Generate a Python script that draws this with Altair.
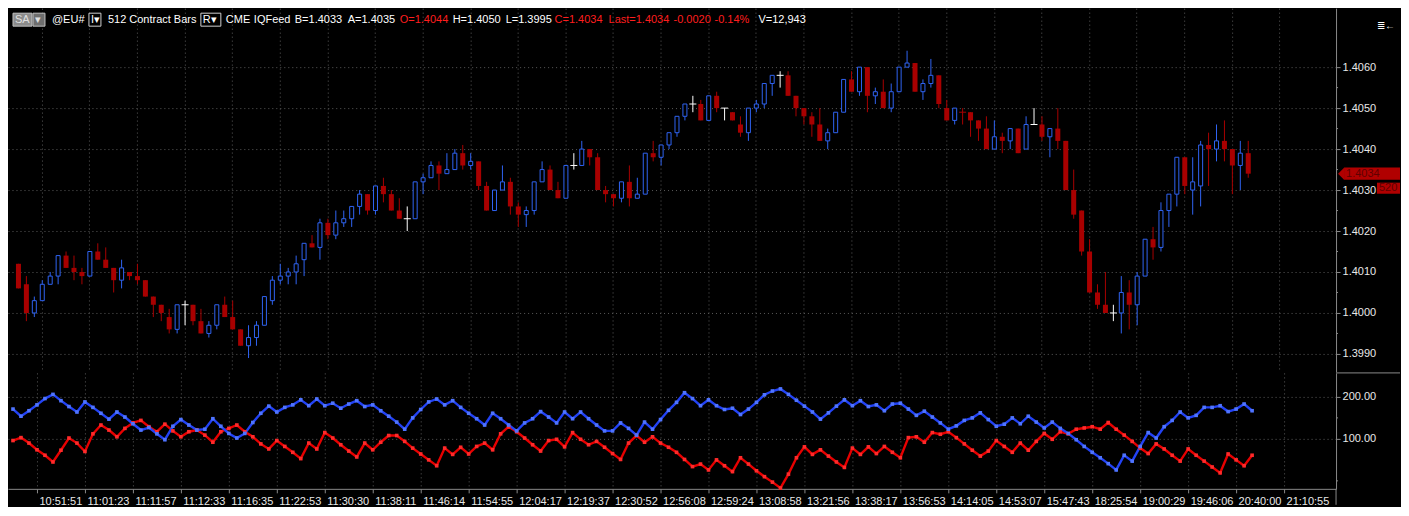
import altair as alt
import pandas as pd

FONT = "Liberation Sans"

# ---------------- price bars (512 contract bars) ----------------
OPEN = [
    1.4012, 1.4007, 1.4000, 1.4003, 1.4007, 1.4009, 1.4014, 1.4011, 1.4010, 1.4009,
    1.4015, 1.4013, 1.4011, 1.4008, 1.4010, 1.4009, 1.4008, 1.4004, 1.4002, 1.3999,
    1.3996, 1.4002, 1.4002, 1.3998, 1.3995, 1.3997, 1.4002, 1.3999, 1.3996, 1.3992,
    1.3994, 1.3997, 1.4003, 1.4008, 1.4009, 1.4010, 1.4013, 1.4017, 1.4016, 1.4022,
    1.4019, 1.4022, 1.4023, 1.4026, 1.4029, 1.4025, 1.4031, 1.4029, 1.4025, 1.4023,
    1.4023, 1.4032, 1.4033, 1.4036, 1.4034, 1.4035, 1.4039, 1.4036, 1.4037, 1.4031,
    1.4025, 1.4030, 1.4032, 1.4026, 1.4024, 1.4025, 1.4032, 1.4035, 1.4030, 1.4028,
    1.4036, 1.4036, 1.4040, 1.4038, 1.4030, 1.4029, 1.4028, 1.4032, 1.4028, 1.4029,
    1.4039, 1.4038, 1.4041, 1.4044, 1.4048, 1.4051, 1.4051, 1.4047, 1.4053, 1.4050,
    1.4049, 1.4046, 1.4044, 1.4050, 1.4051, 1.4056, 1.4058, 1.4058, 1.4053, 1.4050,
    1.4048, 1.4046, 1.4042, 1.4044, 1.4049, 1.4057, 1.4054, 1.4060, 1.4053, 1.4054,
    1.4050, 1.4054, 1.4060, 1.4061, 1.4054, 1.4056, 1.4058, 1.4050, 1.4047, 1.4049,
    1.4049, 1.4047, 1.4045, 1.4040, 1.4043, 1.4042, 1.4045, 1.4040, 1.4046, 1.4046,
    1.4043, 1.4045, 1.4042, 1.4030, 1.4025, 1.4015, 1.4005, 1.4002, 1.4000, 1.4000,
    1.4005, 1.4002, 1.4009, 1.4018, 1.4016, 1.4025, 1.4029, 1.4038, 1.4030, 1.4031,
    1.4041, 1.4040, 1.4042, 1.4040, 1.4036, 1.4039,
]
HIGH = [
    1.4012, 1.4009, 1.4004, 1.4008, 1.4010, 1.4014, 1.4015, 1.4014, 1.4011, 1.4015,
    1.4017, 1.4016, 1.4011, 1.4013, 1.4010, 1.4012, 1.4008, 1.4004, 1.4002, 1.4001,
    1.4002, 1.4003, 1.4002, 1.4001, 1.3998, 1.4002, 1.4004, 1.4003, 1.3996, 1.3997,
    1.3998, 1.4004, 1.4009, 1.4012, 1.4011, 1.4014, 1.4017, 1.4019, 1.4023, 1.4023,
    1.4025, 1.4025, 1.4026, 1.4030, 1.4029, 1.4031, 1.4033, 1.4030, 1.4028, 1.4026,
    1.4032, 1.4034, 1.4037, 1.4037, 1.4039, 1.4040, 1.4041, 1.4039, 1.4037, 1.4032,
    1.4030, 1.4036, 1.4033, 1.4027, 1.4026, 1.4032, 1.4037, 1.4036, 1.4032, 1.4036,
    1.4039, 1.4042, 1.4040, 1.4039, 1.4031, 1.4029, 1.4032, 1.4036, 1.4033, 1.4039,
    1.4042, 1.4041, 1.4044, 1.4048, 1.4051, 1.4053, 1.4052, 1.4053, 1.4054, 1.4050,
    1.4049, 1.4048, 1.4050, 1.4052, 1.4056, 1.4058, 1.4059, 1.4059, 1.4053, 1.4050,
    1.4049, 1.4050, 1.4045, 1.4049, 1.4057, 1.4059, 1.4060, 1.4060, 1.4055, 1.4057,
    1.4056, 1.4060, 1.4064, 1.4061, 1.4057, 1.4062, 1.4058, 1.4052, 1.4050, 1.4050,
    1.4049, 1.4047, 1.4048, 1.4047, 1.4044, 1.4045, 1.4045, 1.4048, 1.4050, 1.4048,
    1.4045, 1.4050, 1.4042, 1.4035, 1.4025, 1.4018, 1.4007, 1.4010, 1.4002, 1.4009,
    1.4008, 1.4010, 1.4018, 1.4021, 1.4027, 1.4029, 1.4038, 1.4038, 1.4038, 1.4042,
    1.4044, 1.4046, 1.4047, 1.4040, 1.4042, 1.4042,
]
LOW = [
    1.4006, 1.3998, 1.3999, 1.4003, 1.4007, 1.4007, 1.4011, 1.4008, 1.4007, 1.4009,
    1.4013, 1.4011, 1.4005, 1.4006, 1.4008, 1.4007, 1.4004, 1.3999, 1.3998, 1.3995,
    1.3995, 1.3997, 1.3997, 1.3995, 1.3994, 1.3996, 1.3999, 1.3996, 1.3992, 1.3989,
    1.3992, 1.3997, 1.4002, 1.4007, 1.4007, 1.4007, 1.4009, 1.4016, 1.4013, 1.4018,
    1.4018, 1.4021, 1.4021, 1.4024, 1.4024, 1.4024, 1.4027, 1.4025, 1.4023, 1.4020,
    1.4023, 1.4029, 1.4033, 1.4030, 1.4034, 1.4035, 1.4035, 1.4035, 1.4030, 1.4025,
    1.4025, 1.4030, 1.4024, 1.4021, 1.4021, 1.4024, 1.4032, 1.4030, 1.4028, 1.4028,
    1.4035, 1.4036, 1.4036, 1.4030, 1.4027, 1.4026, 1.4027, 1.4026, 1.4028, 1.4029,
    1.4037, 1.4036, 1.4040, 1.4043, 1.4047, 1.4049, 1.4047, 1.4047, 1.4049, 1.4047,
    1.4047, 1.4043, 1.4042, 1.4049, 1.4050, 1.4053, 1.4055, 1.4053, 1.4048, 1.4046,
    1.4043, 1.4042, 1.4040, 1.4044, 1.4049, 1.4054, 1.4053, 1.4049, 1.4051, 1.4050,
    1.4049, 1.4054, 1.4060, 1.4054, 1.4052, 1.4055, 1.4050, 1.4047, 1.4046, 1.4046,
    1.4043, 1.4042, 1.4040, 1.4040, 1.4039, 1.4040, 1.4039, 1.4040, 1.4046, 1.4042,
    1.4038, 1.4040, 1.4030, 1.4023, 1.4014, 1.4005, 1.4001, 1.4000, 1.3998, 1.3995,
    1.3996, 1.3997, 1.4009, 1.4013, 1.4015, 1.4021, 1.4026, 1.4029, 1.4024, 1.4026,
    1.4031, 1.4037, 1.4037, 1.4029, 1.4030, 1.4033,
]
CLOSE = [
    1.4006, 1.4000, 1.4003, 1.4007, 1.4009, 1.4014, 1.4011, 1.4010, 1.4009, 1.4015,
    1.4013, 1.4011, 1.4008, 1.4011, 1.4009, 1.4008, 1.4004, 1.4002, 1.4000, 1.3996,
    1.4002, 1.4002, 1.3998, 1.3995, 1.3997, 1.4002, 1.3999, 1.3996, 1.3992, 1.3994,
    1.3997, 1.4004, 1.4008, 1.4009, 1.4010, 1.4012, 1.4017, 1.4016, 1.4022, 1.4019,
    1.4022, 1.4023, 1.4026, 1.4029, 1.4025, 1.4031, 1.4029, 1.4025, 1.4023, 1.4023,
    1.4032, 1.4033, 1.4036, 1.4034, 1.4035, 1.4039, 1.4036, 1.4037, 1.4031, 1.4025,
    1.4030, 1.4032, 1.4026, 1.4024, 1.4025, 1.4032, 1.4035, 1.4030, 1.4028, 1.4036,
    1.4036, 1.4040, 1.4038, 1.4030, 1.4029, 1.4028, 1.4032, 1.4028, 1.4029, 1.4039,
    1.4038, 1.4041, 1.4044, 1.4048, 1.4051, 1.4051, 1.4047, 1.4053, 1.4050, 1.4050,
    1.4047, 1.4044, 1.4050, 1.4051, 1.4056, 1.4058, 1.4058, 1.4053, 1.4050, 1.4048,
    1.4046, 1.4042, 1.4044, 1.4049, 1.4057, 1.4054, 1.4060, 1.4053, 1.4054, 1.4050,
    1.4054, 1.4060, 1.4061, 1.4054, 1.4056, 1.4058, 1.4051, 1.4047, 1.4050, 1.4049,
    1.4047, 1.4045, 1.4040, 1.4043, 1.4042, 1.4045, 1.4039, 1.4046, 1.4046, 1.4043,
    1.4045, 1.4042, 1.4030, 1.4024, 1.4015, 1.4005, 1.4002, 1.4000, 1.4000, 1.4005,
    1.4002, 1.4009, 1.4018, 1.4016, 1.4025, 1.4029, 1.4038, 1.4031, 1.4032, 1.4041,
    1.4040, 1.4042, 1.4040, 1.4036, 1.4039, 1.4034,
]

# ---------------- lower study (two lines) ----------------
BLUE_LINE = [
    171, 154, 167, 181, 196, 206, 191, 177, 164, 188,
    175, 161, 147, 164, 152, 136, 121, 127, 112, 98,
    130, 146, 133, 121, 123, 148, 130, 113, 102, 113,
    139, 161, 178, 164, 175, 181, 193, 179, 195, 179,
    185, 173, 183, 191, 177, 181, 167, 154, 140, 123,
    150, 170, 188, 195, 181, 191, 175, 161, 148, 133,
    161, 148, 133, 119, 138, 148, 165, 152, 138, 164,
    148, 164, 148, 133, 119, 119, 138, 125, 109, 140,
    123, 146, 168, 187, 210, 196, 179, 193, 179, 170,
    173, 158, 171, 187, 205, 214, 219, 206, 192, 178,
    164, 147, 162, 178, 193, 179, 191, 177, 181, 167,
    183, 185, 171, 156, 166, 152, 138, 123, 131, 144,
    150, 162, 146, 130, 135, 150, 136, 154, 140, 126,
    140, 125, 113, 98, 82, 68, 55, 41, 26, 61,
    47, 82, 115, 102, 129, 144, 164, 150, 156, 175,
    175, 179, 165, 171, 183, 167,
]
RED_LINE = [
    96, 103, 90, 74, 61, 45, 73, 102, 90, 70,
    112, 133, 121, 105, 125, 138, 144, 129, 117, 135,
    119, 105, 117, 121, 109, 92, 117, 125, 133, 117,
    105, 88, 76, 96, 82, 68, 53, 90, 76, 115,
    102, 86, 71, 57, 90, 74, 92, 108, 108, 94,
    78, 64, 50, 36, 78, 63, 80, 64, 82, 90,
    74, 112, 129, 117, 102, 86, 71, 96, 99, 81,
    115, 99, 86, 94, 80, 65, 51, 90, 108, 92,
    105, 90, 80, 68, 51, 34, 40, 26, 50, 36,
    22, 55, 40, 24, 10, -3, -17, 16, 55, 81,
    63, 74, 59, 45, 32, 78, 63, 81, 65, 82,
    68, 55, 103, 105, 92, 115, 111, 117, 103, 88,
    73, 59, 71, 96, 82, 68, 90, 73, 94, 113,
    99, 117, 112, 123, 126, 129, 123, 139, 123, 109,
    94, 78, 65, 88, 76, 61, 47, 76, 61, 47,
    33, 19, 64, 50, 36, 61,
]

# ---------------- axis labels ----------------
TICK_BARS = [3, 9, 15, 21, 27, 33, 39, 45, 51, 57, 63, 69, 75, 81, 87, 93, 99,
             105, 111, 117, 123, 129, 135, 141, 147, 153, 159]
TIME_LABELS = ["10:51:51", "11:01:23", "11:11:57", "11:12:33", "11:16:35", "11:22:53",
               "11:30:30", "11:38:11", "11:46:14", "11:54:55", "12:04:17", "12:19:37",
               "12:30:52", "12:56:08", "12:59:24", "13:08:58", "13:21:56", "13:38:17",
               "13:56:53", "14:14:05", "14:53:07", "15:47:43", "18:25:54", "19:00:29",
               "19:46:06", "20:40:00", "21:10:55"]
PRICE_TICKS = [1.3990, 1.4000, 1.4010, 1.4020, 1.4030, 1.4040, 1.4050, 1.4060]
PRICE_MINOR = [1.3995, 1.4005, 1.4015, 1.4025, 1.4035, 1.4045, 1.4055]
STUDY_TICKS = [100, 200]
STUDY_MINOR = [0, 150]

HEADER_TEXT = ["SA", "▾", "@EU#", "I▾", "512 Contract Bars", "R▾", "CME", "IQFeed",
               "B=1.4033", "A=1.4035", "O=1.4044", "H=1.4050", "L=1.3995", "C=1.4034",
               "Last=1.4034", "-0.0020", "-0.14%", "V=12,943"]
LAST_PRICE = 1.4034
LAST_LABEL = "1.4034"
COUNTDOWN = "520"

# ---------------- styles / layout ----------------
W, H_PRICE, H_STUDY = 1329, 364, 116
BLUE = "#2f63f2"
RED = "#a80000"
GRID = "#5a5a5a"
AXIS = "#8a8a8a"
TXT = "#e8e8e8"
HRED = "#ff1e1e"
HEADER_COLOR = ["#e0e0e0", "#e0e0e0", "#ffffff", "#ffffff", "#ffffff", "#ffffff", "#ffffff",
                "#ffffff", "#ffffff", "#ffffff", HRED, "#ffffff", "#ffffff", HRED, HRED,
                HRED, HRED, "#ffffff"]
HEADER_X = [7, 27, 44, 83, 100, 195, 218, 246, 287, 340, 392, 445, 498, 547, 601, 666, 707, 751]
BOX_X0 = [5, 25, 81, 193]
BOX_X1 = [24, 37, 93, 213]
BOX_FILL = ["#8c8c8c", "#6e6e6e", "#000000", "#000000"]
BOX_STROKE = ["#c0c0c0", "#c0c0c0", "#d0d0d0", "#d0d0d0"]

# ---------------- data frames ----------------
n = min(len(OPEN), len(HIGH), len(LOW), len(CLOSE))
kinds, dojis = [], []
prev = None
for o, c in zip(OPEN[:n], CLOSE[:n]):
    o4, c4 = round(o, 4), round(c, 4)
    if c4 > o4:
        k = "up"
    elif c4 < o4:
        k = "down"
    elif prev is None or c4 == prev:
        k = "flat"
    elif c4 < prev:
        k = "down"
    else:
        k = "up"
    kinds.append(k)
    dojis.append(o4 == c4)
    prev = c4

candles = pd.DataFrame({
    "bar": list(range(n)), "open": OPEN[:n], "high": HIGH[:n], "low": LOW[:n],
    "close": CLOSE[:n], "kind": kinds, "doji": dojis,
})

x_scale = alt.Scale(domain=[-0.625, 165.5], nice=False, zero=False)
y_price = alt.Scale(domain=[1.398561, 1.407439], nice=False, zero=False)
y_study = alt.Scale(domain=[-19, 257.1], nice=False, zero=False)
kind_scale = alt.Scale(domain=["up", "down", "flat"], range=[BLUE, RED, "#ffffff"])

x_axis_top = alt.Axis(values=TICK_BARS, labels=False, ticks=False, domain=False, grid=True,
                      title=None, gridColor=GRID, gridDash=[1, 3])
price_axis = alt.Axis(orient="right", values=PRICE_TICKS, format=".4f", grid=True,
                      gridColor=GRID, gridDash=[1, 3], tickSize=4, tickColor=AXIS,
                      domainColor=AXIS, labelColor=TXT, labelFontSize=11, labelFont=FONT,
                      labelPadding=2, title=None)

X = alt.X("bar:Q", scale=x_scale, axis=x_axis_top)
base = alt.Chart(candles)

wicks = base.mark_rule(strokeWidth=1, xOffset=0.5).encode(
    x=X, y=alt.Y("low:Q", scale=y_price, axis=price_axis), y2="high:Q",
    color=alt.Color("kind:N", scale=kind_scale, legend=None))
red_bodies = base.transform_filter("datum.kind == 'down' && !datum.doji").mark_bar(
    size=5, color=RED, xOffset=0.5).encode(
    x=X, y=alt.Y("open:Q", scale=y_price, axis=price_axis), y2="close:Q")
blue_bodies = base.transform_filter("datum.kind == 'up' && !datum.doji").mark_bar(
    size=4, fill="#000000", stroke=BLUE, strokeWidth=1, xOffset=0.5).encode(
    x=X, y=alt.Y("open:Q", scale=y_price, axis=price_axis), y2="close:Q")
doji_ticks = base.transform_filter("datum.doji").mark_tick(
    orient="horizontal", size=7, thickness=1, xOffset=0.5, opacity=1).encode(
    x=X, y=alt.Y("open:Q", scale=y_price, axis=price_axis),
    color=alt.Color("kind:N", scale=kind_scale, legend=None))

minor_price = alt.Chart(pd.DataFrame({"p": PRICE_MINOR})).mark_rule(color=AXIS).encode(
    x=alt.value(W), x2=alt.value(W + 2), y=alt.Y("p:Q", scale=y_price, axis=price_axis))

header_df = pd.DataFrame({"text": HEADER_TEXT, "color": HEADER_COLOR, "px": HEADER_X})
boxes_df = pd.DataFrame({"x0": BOX_X0, "x1": BOX_X1, "fill": BOX_FILL, "stroke": BOX_STROKE})
boxes = alt.Chart(boxes_df).mark_rect(strokeWidth=1).encode(
    x=alt.X("x0:Q", scale=None), x2="x1:Q", y=alt.value(5), y2=alt.value(18),
    fill=alt.Fill("fill:N", scale=None), stroke=alt.Stroke("stroke:N", scale=None))
header = alt.Chart(header_df).mark_text(align="left", baseline="middle", fontSize=11,
                                        font=FONT).encode(
    x=alt.X("px:Q", scale=None), y=alt.value(11.5), text="text:N",
    color=alt.Color("color:N", scale=None))

marker_df = pd.DataFrame({
    "top": [LAST_PRICE + 0.00015], "bot": [LAST_PRICE - 0.00015], "mid": [LAST_PRICE],
    "label": [LAST_LABEL], "ctop": [LAST_PRICE - 0.00022], "cbot": [LAST_PRICE - 0.00049],
    "cmid": [LAST_PRICE - 0.000355], "count": [COUNTDOWN],
})
mk = alt.Chart(marker_df)
marker_rect = mk.mark_rect(color="#b00000").encode(
    x=alt.value(W + 8), x2=alt.value(1393),
    y=alt.Y("top:Q", scale=y_price, axis=price_axis), y2="bot:Q")
marker_tip = mk.mark_point(shape="M -1 0 L 0 -1 L 0 1 Z", filled=True, size=144,
                           color="#b00000", opacity=1).encode(
    x=alt.value(W + 8), y=alt.Y("mid:Q", scale=y_price, axis=price_axis))
marker_text = mk.mark_text(align="left", baseline="middle", fontSize=11, font=FONT,
                           color="#5e0000").encode(
    x=alt.value(W + 10), y=alt.Y("mid:Q", scale=y_price, axis=price_axis), text="label:N")
count_rect = mk.mark_rect(color="#b00000").encode(
    x=alt.value(1370), x2=alt.value(1393),
    y=alt.Y("ctop:Q", scale=y_price, axis=price_axis), y2="cbot:Q")
count_text = mk.mark_text(align="left", baseline="middle", fontSize=11, font=FONT,
                          color="#5e0000").encode(
    x=alt.value(1372), y=alt.Y("cmid:Q", scale=y_price, axis=price_axis), text="count:N")
icon = alt.Chart(pd.DataFrame({"t": ["≣←"]})).mark_text(
    align="left", baseline="middle", fontSize=10, color="#ffffff").encode(
    x=alt.value(1370), y=alt.value(18), text="t:N")

price = alt.layer(
    wicks, red_bodies, blue_bodies, doji_ticks, minor_price, boxes, header,
    marker_rect, marker_tip, marker_text, count_rect, count_text, icon,
).properties(width=W, height=H_PRICE)

# ---------------- lower panel ----------------
ticks_js = "[" + ",".join(str(t) for t in TICK_BARS) + "]"
labels_js = "[" + ",".join("'" + t + "'" for t in TIME_LABELS) + "]"
x_axis_bottom = alt.Axis(values=TICK_BARS, labelExpr=f"{labels_js}[indexof({ticks_js}, datum.value)]",
                         labelAlign="left", labelOffset=2, labelFlush=False, labelOverlap=False,
                         tickSize=4, tickColor=AXIS, domainColor=AXIS, grid=True,
                         gridColor=GRID, gridDash=[1, 3], labelColor=TXT, labelFontSize=11,
                         labelFont=FONT, labelPadding=3, title=None)
study_axis = alt.Axis(orient="right", values=STUDY_TICKS, format=".2f", grid=True,
                      gridColor=GRID, gridDash=[1, 3], tickSize=4, tickColor=AXIS,
                      domainColor=AXIS, labelColor=TXT, labelFontSize=11, labelFont=FONT,
                      labelPadding=2, title=None)
XB = alt.X("bar:Q", scale=x_scale, axis=x_axis_bottom)

blue_df = pd.DataFrame({"bar": list(range(len(BLUE_LINE))), "v": BLUE_LINE})
red_df = pd.DataFrame({"bar": list(range(len(RED_LINE))), "v": RED_LINE})
YS = alt.Y("v:Q", scale=y_study, axis=study_axis)

blue_line = alt.Chart(blue_df).mark_line(color="#2242f5", strokeWidth=2.4).encode(x=XB, y=YS)
blue_pts = alt.Chart(blue_df).mark_square(color="#4f74ff", size=13, opacity=1).encode(x=XB, y=YS)
red_line = alt.Chart(red_df).mark_line(color="#e60000", strokeWidth=2.4).encode(x=XB, y=YS)
red_pts = alt.Chart(red_df).mark_square(color="#ff2a2a", size=13, opacity=1).encode(x=XB, y=YS)

minor_study = alt.Chart(pd.DataFrame({"s": STUDY_MINOR})).mark_rule(color=AXIS).encode(
    x=alt.value(W), x2=alt.value(W + 2), y=alt.Y("s:Q", scale=y_study, axis=study_axis))
sep = alt.Chart(pd.DataFrame({"s": [0]})).mark_rule(color=AXIS).encode(
    x=alt.value(W), x2=alt.value(1393), y=alt.value(0))
axis_ext = alt.Chart(pd.DataFrame({"s": [0]})).mark_rule(color=AXIS).encode(
    x=alt.value(W), y=alt.value(H_STUDY), y2=alt.value(H_STUDY + 16))

lower = alt.layer(
    red_line, blue_line, red_pts, blue_pts, minor_study, sep, axis_ext,
).properties(width=W, height=H_STUDY)

chart = alt.vconcat(price, lower, spacing=0).properties(
    padding={"left": 0, "top": 0, "right": 0, "bottom": 0}
).configure(background="#000000", font=FONT).configure_view(strokeWidth=0)

chart.save("out.html", embed_options={"renderer": "svg", "actions": False})
